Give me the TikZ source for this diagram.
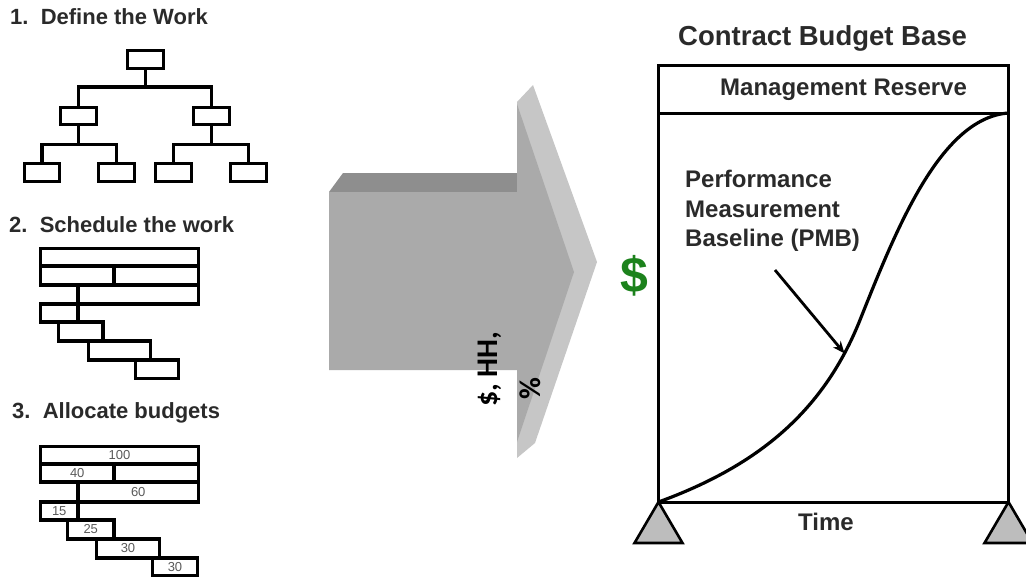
\documentclass[tikz,border=0pt]{standalone}
\usepackage{fontspec}
\setmainfont{Liberation Sans}
\newfontfamily\carlito{Carlito}
\usetikzlibrary{arrows.meta}
\definecolor{labelgray}{HTML}{2A2A2A}
\definecolor{arrowface}{HTML}{AAAAAA}
\definecolor{arrowtop}{HTML}{8E8E8E}
\definecolor{arrowside}{HTML}{C6C6C6}
\definecolor{dollargreen}{HTML}{1C821C}
\definecolor{supportgray}{HTML}{BDBDBD}

\begin{document}
\begin{tikzpicture}[x=1pt, y=-1pt,
    heading/.style={anchor=base west, inner sep=0pt, text=labelgray, font=\bfseries\fontsize{22}{26}\selectfont},
    boxtext/.style={inner sep=0pt, text=labelgray, font=\bfseries\fontsize{24}{29.5}\selectfont},
    wbsbox/.style={draw, line width=3.4pt, minimum width=35.5pt, minimum height=17.5pt, inner sep=0pt},
    bar/.style={line width=3.4pt},
    amount/.style={inner sep=0pt, text=black!65, font=\fontsize{13}{13}\selectfont},
    units/.style={rotate=90, anchor=base west, inner sep=0pt, font=\carlito\bfseries\fontsize{30}{36}\selectfont},
    frame/.style={line width=3pt},
    support/.style={draw, line width=2.6pt, fill=supportgray, line join=miter}]
    \useasboundingbox (0,0) rectangle (1026,581);

    % Step 1: work breakdown tree
    \node[heading] (step1) at (10,24) {1.\ \ Define the Work};
    \node[wbsbox] (w0) at (145.5,59.5) {};
    \node[wbsbox] (w1) at (78.5,116) {};
    \node[wbsbox] (w2) at (211.5,116) {};
    \node[wbsbox] (w11) at (42,172.5) {};
    \node[wbsbox] (w12) at (116.5,172.5) {};
    \node[wbsbox] (w21) at (173.5,172.5) {};
    \node[wbsbox] (w22) at (248.5,172.5) {};
    \draw[bar] (w0.south) -- ++(0,17) coordinate (j0);
    \draw[bar] (w1.north) |- (j0) -| (w2.north);
    \draw[bar] (w1.south) -- ++(0,18) coordinate (j1);
    \draw[bar] (w11.north) |- (j1) -| (w12.north);
    \draw[bar] (w2.south) -- ++(0,18) coordinate (j2);
    \draw[bar] (w21.north) |- (j2) -| (w22.north);

    % Step 2: schedule bars
    \node[heading] (step2) at (9,232) {2.\ \ Schedule the work};
    \foreach \xa/\ya/\xb/\yb in {40.5/248.5/198.5/266, 40.5/266/114/285, 114/266/198.5/285, 78/285/198.5/304,
        40.5/304/78/322, 58.5/322/103/341, 88.5/341/150.5/360, 135.5/360/178.5/378.5}
        \draw[bar] (\xa,\ya) rectangle (\xb,\yb);

    % Step 3: same bars with their budgets
    \node[heading] (step3) at (12,418) {3.\ \ Allocate budgets};
    \foreach \xa/\ya/\xb/\yb/\val [count=\i] in {40.5/446.5/198.5/464/100, 40.5/464/114/482/40, 114/464/198.5/482/{},
        78/482/198.5/502/60, 40.5/502/78/520/15, 67.5/520/114/539/25, 96.5/539/159.5/558/30, 152.5/558/197.5/575.5/30}
        \draw[bar] (\xa,\ya) rectangle (\xb,\yb) ({(\xa+\xb)/2},{(\ya+\yb)/2}) node[amount] (amt\i) {\val};

    % Big grey block arrow
    \fill[arrowside] (517,102) -- (533,85) -- (597,262) -- (535,443) -- (517,458) -- cycle;
    \fill[arrowtop] (329,192) -- (343,173) -- (517,173) -- (517,192) -- cycle;
    \fill[arrowface] (329,192) -- (517,192) -- (517,104) -- (574,272) -- (517,442) -- (517,370) -- (329,370) -- cycle;
    \node[units] (units1) at (497,407) {\$, HH,};
    \node[units] (units2) at (540,400) {\%};

    % Contract budget base chart
    \node[anchor=base west, inner sep=0pt, text=labelgray, font=\bfseries\fontsize{27.5}{32}\selectfont] (cbb) at (678,45) {Contract Budget Base};
    \coordinate (origin) at (658.5,502);
    \coordinate (cbbtop) at (1008.5,113);
    \draw[frame] (origin) rectangle (1008.5,65.5);
    \draw[frame] (658.5,113) -- (cbbtop);
    \node[boxtext, anchor=base west] (reserve) at (720,95) {Management Reserve};
    \node[boxtext, anchor=base] (time) at (826,530) {Time};
    \node[anchor=base, inner sep=0pt, text=dollargreen, font=\bfseries\fontsize{50}{50}\selectfont] (money) at (634.5,292) {\$};

    % S-curve of the baseline
    \draw[line width=3.2pt] (origin) .. controls (760,465) and (824,410) .. coordinate[pos=0.87] (hit) (860,320)
        .. controls (896,230) and (940,118) .. (cbbtop);
    \node[boxtext, anchor=north west, align=left] (pmb) at (685,170) {Performance\\Measurement\\Baseline (PMB)};
    \coordinate (pmbtail) at (775,270);
    \draw[line width=2.8pt, -{Stealth[length=12pt, width=10pt]}] (pmbtail) -- (hit);

    % Supports under the two corners
    \draw[support] (origin) -- ++(-24,41) -- ++(48,0) -- cycle;
    \draw[support] (1008.5,502) -- ++(-24,41) -- ++(48,0) -- cycle;
\end{tikzpicture}
\end{document}
